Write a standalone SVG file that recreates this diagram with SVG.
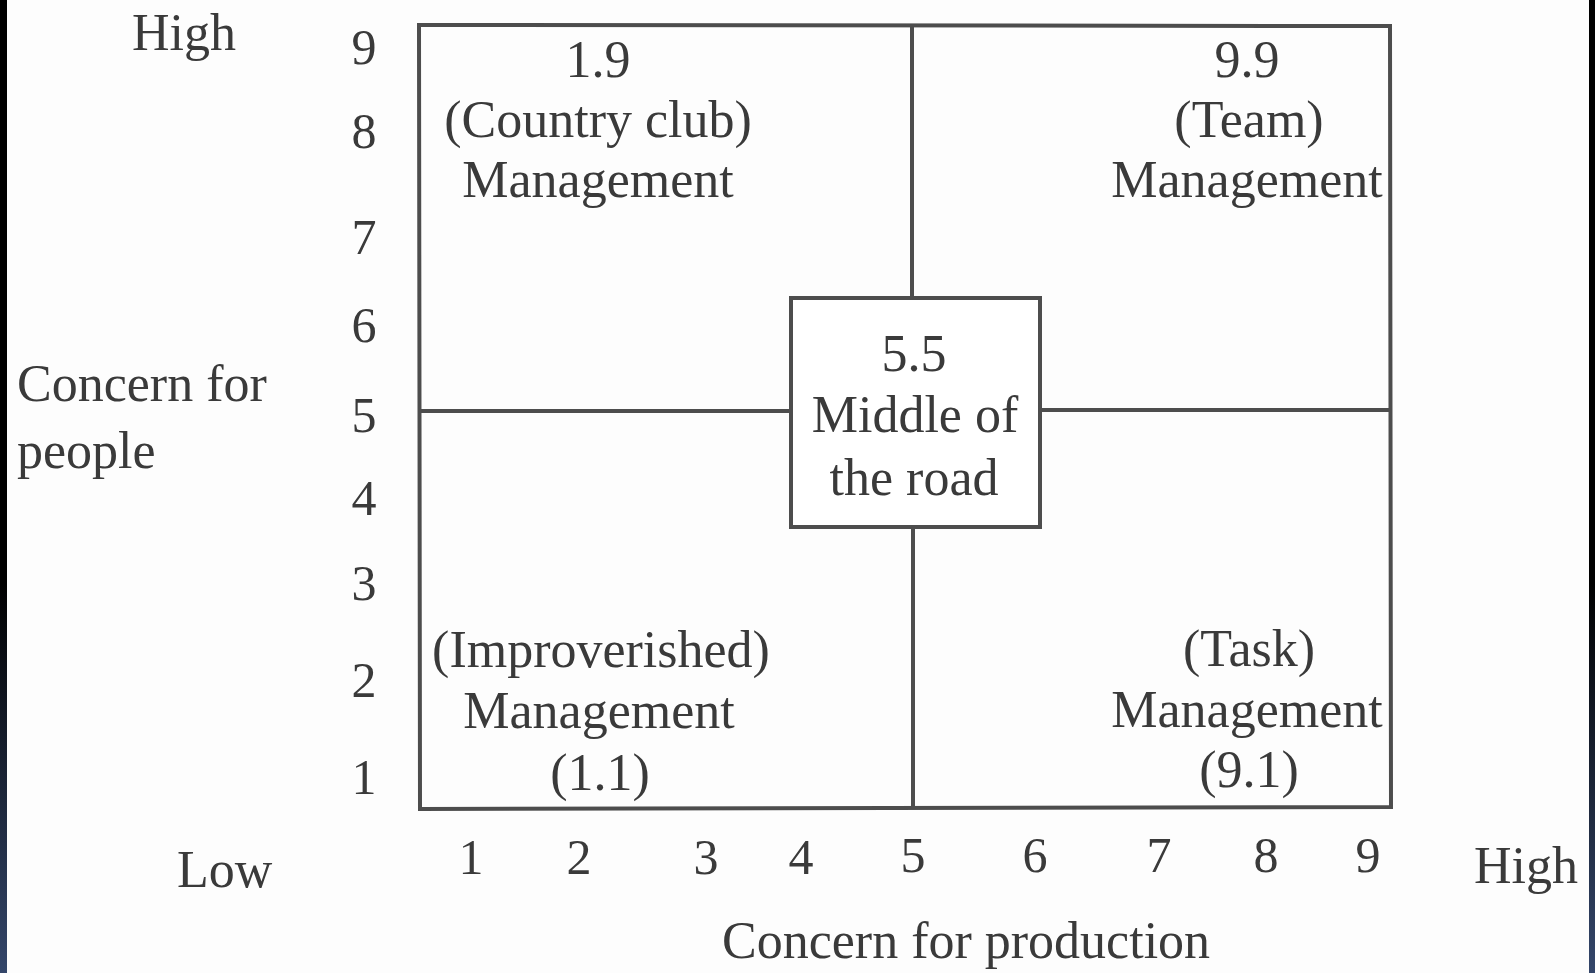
<svg xmlns="http://www.w3.org/2000/svg" width="1595" height="973" viewBox="0 0 1595 973">
<defs>
<linearGradient id="edge" x1="0" y1="0" x2="0" y2="1">
<stop offset="0" stop-color="#000000"/>
<stop offset="0.6" stop-color="#000000"/>
<stop offset="1" stop-color="#34466a"/>
</linearGradient>
<style>
text{font-family:"Liberation Serif","Times New Roman",serif;font-size:52px;fill:#3a3a3a}
.d{font-size:50px;text-anchor:middle}
.c{text-anchor:middle}
.ln{stroke:#4d4d4d;stroke-width:4;fill:none}
.box{stroke:#4d4d4d;stroke-width:4;fill:#ffffff}
</style>
</defs>
<rect x="0" y="0" width="1595" height="973" fill="#fdfdfd"/>
<rect x="0" y="0" width="7" height="973" fill="url(#edge)"/>
<rect x="1589" y="0" width="6" height="973" fill="url(#edge)"/>

<g id="connectors">
<path class="ln" d="M419,25 L1390,26 L1391,807 L420,809 Z"/>
<line class="ln" x1="420" y1="411" x2="791" y2="411"/>
<line class="ln" x1="1040" y1="410" x2="1391" y2="410"/>
<line class="ln" x1="912" y1="25" x2="912" y2="298"/>
<line class="ln" x1="913" y1="527" x2="913" y2="808"/>
</g>

<g id="y-axis">
<text x="132" y="50">High</text>
<text class="d" x="364" y="64">9</text>
<text class="d" x="364" y="148">8</text>
<text class="d" x="364" y="254">7</text>
<text class="d" x="364" y="342">6</text>
<text class="d" x="364" y="432">5</text>
<text class="d" x="364" y="515">4</text>
<text class="d" x="364" y="600">3</text>
<text class="d" x="364" y="697">2</text>
<text class="d" x="364" y="794">1</text>
<text x="17" y="401">Concern for</text>
<text x="17" y="468">people</text>
</g>

<g id="x-axis">
<text x="177" y="887">Low</text>
<text class="d" x="471" y="874">1</text>
<text class="d" x="579" y="874">2</text>
<text class="d" x="706" y="874">3</text>
<text class="d" x="801" y="874">4</text>
<text class="d" x="913" y="872">5</text>
<text class="d" x="1035" y="872">6</text>
<text class="d" x="1159" y="872">7</text>
<text class="d" x="1266" y="872">8</text>
<text class="d" x="1368" y="872">9</text>
<text x="1474" y="883">High</text>
<text x="722" y="958">Concern for production</text>
</g>

<g id="country-club">
<text class="c" x="598" y="77">1.9</text>
<text class="c" x="598" y="137">(Country club)</text>
<text class="c" x="598" y="197">Management</text>
</g>

<g id="team">
<text class="c" x="1247" y="77">9.9</text>
<text class="c" x="1249" y="137">(Team)</text>
<text class="c" x="1247" y="197">Management</text>
</g>

<g id="middle-of-the-road">
<rect class="box" x="791" y="298" width="249" height="229"/>
<text class="c" x="914" y="371">5.5</text>
<text class="c" x="915" y="432">Middle of</text>
<text class="c" x="914" y="495">the road</text>
</g>

<g id="impoverished">
<text class="c" x="601" y="667">(Improverished)</text>
<text class="c" x="599" y="728">Management</text>
<text class="c" x="600" y="790">(1.1)</text>
</g>

<g id="task">
<text class="c" x="1249" y="666">(Task)</text>
<text class="c" x="1247" y="727">Management</text>
<text class="c" x="1249" y="787">(9.1)</text>
</g>
</svg>
